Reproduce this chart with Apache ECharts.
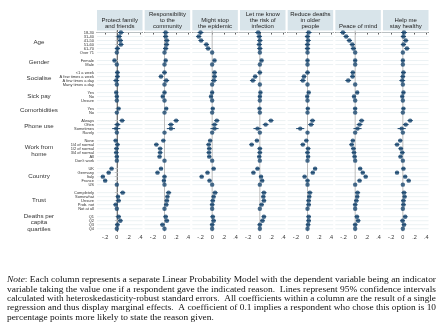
<!DOCTYPE html>
<html>
<head>
<meta charset="utf-8">
<script src="https://cdn.jsdelivr.net/npm/echarts@6/dist/echarts.min.js"></script>
<style>
html, body { margin: 0; padding: 0; background: #fff; }
#chart { width: 440px; height: 325px; }
</style>
</head>
<body>
<div id="chart"></div>
<script>
// panel titles (one regression per column)
var panelTitles = ["Protect family\nand friends", "Responsibility\nto the\ncommunity", "Might stop\nthe epidemic",
  "Let me know\nthe risk of\ninfection", "Reduce deaths\nin older\npeople", "Peace of mind", "Help me\nstay healthy"];

// row groups and their categories (last one in each group is the base level)
var groupNames = ["Age", "Gender", "Socialise", "Sick pay", "Comorbidities", "Phone use", "Work from\nhome",
  "Country", "Trust", "Deaths per\ncapita\nquartiles"];
var groupRows = [
  ["18-30", "31-40", "41-50", "51-60", "61-70", "Over 71"],
  ["Female", "Male"],
  ["<1 a week", "A few times a week", "A few times a day", "Many times a day"],
  ["Yes", "No", "Unsure"],
  ["Yes", "No"],
  ["Always", "Often", "Sometimes", "Rarely"],
  ["None", "1/4 of normal", "1/2 of normal", "3/4 of normal", "All", "Don't work"],
  ["UK", "Germany", "Italy", "France", "US"],
  ["Completely", "Somewhat", "Unsure", "Prob. not", "Not at all"],
  ["Q1", "Q2", "Q3", "Q4"]
];

// coefficients, in row order above
var protectFamily = [0.07, 0.04, 0.06, 0.07, 0.01, 0, -0.04, 0, 0.01, 0.01, -0.01, 0, -0.01, 0.0, 0, 0.03, 0,
  0.09, 0.01, -0.01, 0, -0.02, 0.01, -0.005, -0.01, 0.0, 0, -0.09, -0.14, -0.24, -0.2, 0, 0.1, 0.02, 0.03, -0.02, 0,
  0.03, 0.06, 0.01, 0];
var responsibility = [0.02, 0.02, 0.04, 0.035, 0.02, 0, 0.02, 0, 0.0, -0.06, 0.03, 0, 0.0, -0.03, 0, 0.03, 0,
  0.2, 0.11, 0.11, 0, -0.02, -0.14, -0.075, -0.075, -0.085, 0, -0.06, -0.12, 0.0, -0.01, 0, 0.07, 0.05, 0.04, 0.03, 0,
  0.02, 0.04, -0.035, 0];
var mightStop = [-0.2, -0.23, -0.19, -0.1, -0.07, 0, 0.04, 0, 0.04, 0.04, 0.03, 0, 0.0, -0.02, 0, 0.01, 0,
  0.08, 0.04, 0.04, 0, -0.035, -0.06, -0.05, -0.055, -0.05, 0, 0.025, -0.08, -0.18, -0.045, 0, 0.05, 0.025, 0.01, 0.0, 0,
  0.01, 0.025, 0.0, 0];
var letMeKnow = [-0.03, -0.01, 0.0, -0.01, 0.0, 0, 0.03, 0, 0.0, -0.08, -0.12, 0, 0.01, 0.0, 0, -0.005, 0,
  0.19, 0.1, -0.04, 0, -0.05, -0.14, 0.0, 0.0, -0.01, 0, -0.04, -0.11, 0.02, 0.04, 0, 0.07, 0.06, 0.07, 0.03, 0,
  0.07, 0.045, 0.0, 0];
var reduceDeaths = [0.02, 0.0, 0.01, 0.0, 0.0, 0, 0.0, 0, 0.0, -0.06, -0.08, 0, 0.02, -0.005, 0, 0.005, 0,
  0.085, 0.06, -0.125, 0, -0.02, -0.08, 0.01, 0.0, 0.01, 0, 0.13, 0.09, -0.05, 0.0, 0, 0.04, 0.03, 0.02, 0.02, 0,
  0.02, 0.02, 0.01, 0];
var peaceOfMind = [-0.21, -0.155, -0.1, -0.05, -0.03, 0, 0.0, 0, -0.04, -0.045, -0.12, 0, 0.035, -0.02, 0, 0.0, 0,
  0.11, 0.075, 0.04, 0, -0.04, -0.06, -0.03, -0.02, -0.01, 0, 0.085, 0.13, 0.18, 0.075, 0, 0.04, 0.035, 0.02, 0.0, 0,
  0.03, 0.05, 0.0, 0];
var helpHealthy = [0.02, 0.01, 0.05, 0.01, 0.07, 0, 0.0, 0, 0.01, 0.0, -0.01, 0, 0.01, -0.01, 0, 0.01, 0,
  0.125, 0.05, -0.02, 0, -0.045, -0.1, -0.035, -0.01, -0.04, 0, 0.01, -0.1, 0.04, 0.1, 0, 0.02, 0.03, 0.01, 0.01, 0,
  0.04, -0.005, 0.02, 0];
// half width of the 95% confidence interval per row (0 = base level)
var ciHalf = [0.05, 0.045, 0.045, 0.045, 0.045, 0, 0.03, 0, 0.04, 0.04, 0.05, 0, 0.03, 0.03, 0, 0.03, 0,
  0.045, 0.05, 0.07, 0, 0.035, 0.04, 0.04, 0.04, 0.035, 0, 0.035, 0.035, 0.035, 0.035, 0, 0.045, 0.035, 0.04, 0.04, 0,
  0.04, 0.04, 0.04, 0];
var xTicks = [-0.2, 0, 0.2, 0.4];

var panels = [protectFamily, responsibility, mightStop, letMeKnow, reduceDeaths, peaceOfMind, helpHealthy];

// note lines as typeset (first word in italics)
var noteLines = [
  ": Each column represents a separate Linear Probability Model with the dependent variable being an indicator",
  "variable taking the value one if a respondent gave the indicated reason.  Lines represent 95% confidence intervals",
  "calculated with heteroskedasticity-robust standard errors.  All coefficients within a column are the result of a single",
  "regression and thus display marginal effects.  A coefficient of 0.1 implies a respondent who chose this option is 10",
  "percentage points more likely to state the reason given."
];

var navy = "#1a476f";
var sans = "Liberation Sans, Arial, sans-serif";
var serif = "Liberation Serif, Times New Roman, serif";

// row slots: a blank slot between groups
var rowSlot = [], rowLabel = {}, groupCenter = [], nSlots = 0;
groupRows.forEach(function(rows, g) {
  if (g > 0) nSlots++;
  var first = nSlots;
  rows.forEach(function(r) {
    rowSlot.push(nSlots);
    rowLabel[nSlots] = r;
    nSlots++;
  });
  groupCenter.push((first + nSlots - 1) / 2);
});

var chart = echarts.init(document.getElementById("chart"));

var left0 = 97, step = 47.67, pw = 45.5, gridTop = 30.5, ph = 201;
var grids = [], xAxes = [], yAxes = [], series = [], graphics = [];

function renderRow(params, api) {
  var cs = params.coordSys;
  var y = api.coord([0, api.value(1)])[1];
  return { type: "line", shape: { x1: cs.x, y1: y, x2: cs.x + cs.width, y2: y },
    style: { stroke: "#e4ecef", lineWidth: 0.7 } };
}
function renderZero(params, api) {
  var cs = params.coordSys;
  var x = api.coord([0, 0])[0];
  return { type: "line", shape: { x1: x, y1: cs.y, x2: x, y2: cs.y + cs.height },
    style: { stroke: "#b4b4b4", lineWidth: 0.9 } };
}
function renderCi(params, api) {
  var a = api.coord([api.value(0), api.value(2)]);
  var b = api.coord([api.value(1), api.value(2)]);
  return { type: "line", shape: { x1: a[0], y1: a[1], x2: b[0], y2: b[1] },
    style: { stroke: navy, lineWidth: 1 } };
}

panels.forEach(function(vals, i) {
  var left = left0 + i * step;
  grids.push({ left: left, top: gridTop, width: pw, height: ph, outerBoundsMode: "none" });
  xAxes.push({
    type: "value", gridIndex: i, min: -0.34, max: 0.44,
    axisLine: { show: true, lineStyle: { color: "#333", width: 0.8 } },
    axisTick: { show: true, length: 2, customValues: xTicks, lineStyle: { color: "#333", width: 0.8 } },
    axisLabel: { customValues: xTicks, fontSize: 5.5, margin: 3, color: "#333", fontFamily: sans,
      formatter: function(v) { return v === 0 ? "0" : String(v).replace("0.", "."); } },
    splitLine: { show: false }
  });
  yAxes.push({
    type: "value", gridIndex: i, inverse: true, min: -0.5, max: 49.7,
    axisLine: { show: i === 0, lineStyle: { color: "#333", width: 0.8 } },
    axisTick: { show: i === 0, length: 2, customValues: rowSlot, lineStyle: { color: "#333", width: 0.6 } },
    axisLabel: { show: i === 0, customValues: rowSlot, fontSize: 4, margin: 3, color: "#333", fontFamily: sans,
      formatter: function(v) { return rowLabel[v] || ""; } },
    splitLine: { show: false }
  });

  series.push({
    type: "custom", xAxisIndex: i, yAxisIndex: i, z: 1, silent: true,
    renderItem: renderRow, encode: { x: 0, y: 1 },
    data: rowSlot.map(function(s) { return [0, s]; })
  });
  series.push({
    type: "custom", xAxisIndex: i, yAxisIndex: i, z: 2, silent: true,
    renderItem: renderZero, encode: { x: 0, y: 1 }, data: [[0, 0]]
  });
  series.push({
    type: "custom", xAxisIndex: i, yAxisIndex: i, z: 3, silent: true,
    renderItem: renderCi, encode: { x: [0, 1], y: 2 },
    data: vals.map(function(v, r) { return [v - ciHalf[r], v + ciHalf[r], rowSlot[r]]; })
      .filter(function(d, r) { return ciHalf[r] > 0; })
  });
  series.push({
    type: "scatter", xAxisIndex: i, yAxisIndex: i, z: 4, silent: true,
    symbol: "circle", symbolSize: 4.4, itemStyle: { color: navy },
    data: vals.map(function(v, r) { return [v, rowSlot[r]]; })
  });

  graphics.push({ type: "rect", shape: { x: left, y: 10, width: pw, height: 20.5 },
    style: { fill: "#d8e4ea" } });
  graphics.push({ type: "text", x: left + pw / 2, y: 29.3,
    style: { text: panelTitles[i], fontSize: 6, fontFamily: sans, lineHeight: 5.9, fill: "#222",
      align: "center", verticalAlign: "bottom" } });
});

// group labels on a second axis of the first panel
yAxes.push({
  type: "value", gridIndex: 0, inverse: true, min: -0.5, max: 49.7, position: "left",
  axisLine: { show: false }, axisTick: { show: false }, splitLine: { show: false },
  axisLabel: { customValues: groupCenter, fontSize: 6.2, lineHeight: 6.4, margin: 58, color: "#333",
    fontFamily: sans, align: "center",
    formatter: function(v) { return groupNames[groupCenter.indexOf(v)] || ""; } }
});

// note: stretch each line to the justified width of the reference
var noteSize = 8.6, noteLeft = 7, noteWidth = 429;
var ctx = document.createElement("canvas").getContext("2d");
function measure(str, italic) {
  ctx.font = (italic ? "italic " : "") + noteSize + "px 'Liberation Serif'";
  return ctx.measureText(str).width;
}
var scales = noteLines.map(function(line, k) {
  var w = measure(line, false) + (k === 0 ? measure("Note", true) : 0);
  return noteWidth / w;
});
var avgScale = (scales[0] + scales[1] + scales[2] + scales[3]) / 4;
noteLines.forEach(function(line, k) {
  graphics.push({ type: "text", x: noteLeft, y: 280.2 + k * 9.3, scaleX: k < 4 ? scales[k] : avgScale,
    style: { text: (k === 0 ? "{i|Note}" : "") + line, fontSize: noteSize, fontFamily: serif, fill: "#111",
      align: "left", verticalAlign: "middle",
      rich: { i: { fontStyle: "italic", fontSize: noteSize, fontFamily: serif } } } });
});

chart.setOption({
  backgroundColor: "#fff",
  animation: false,
  grid: grids,
  xAxis: xAxes,
  yAxis: yAxes,
  series: series,
  graphic: graphics
});
</script>
</body>
</html>
